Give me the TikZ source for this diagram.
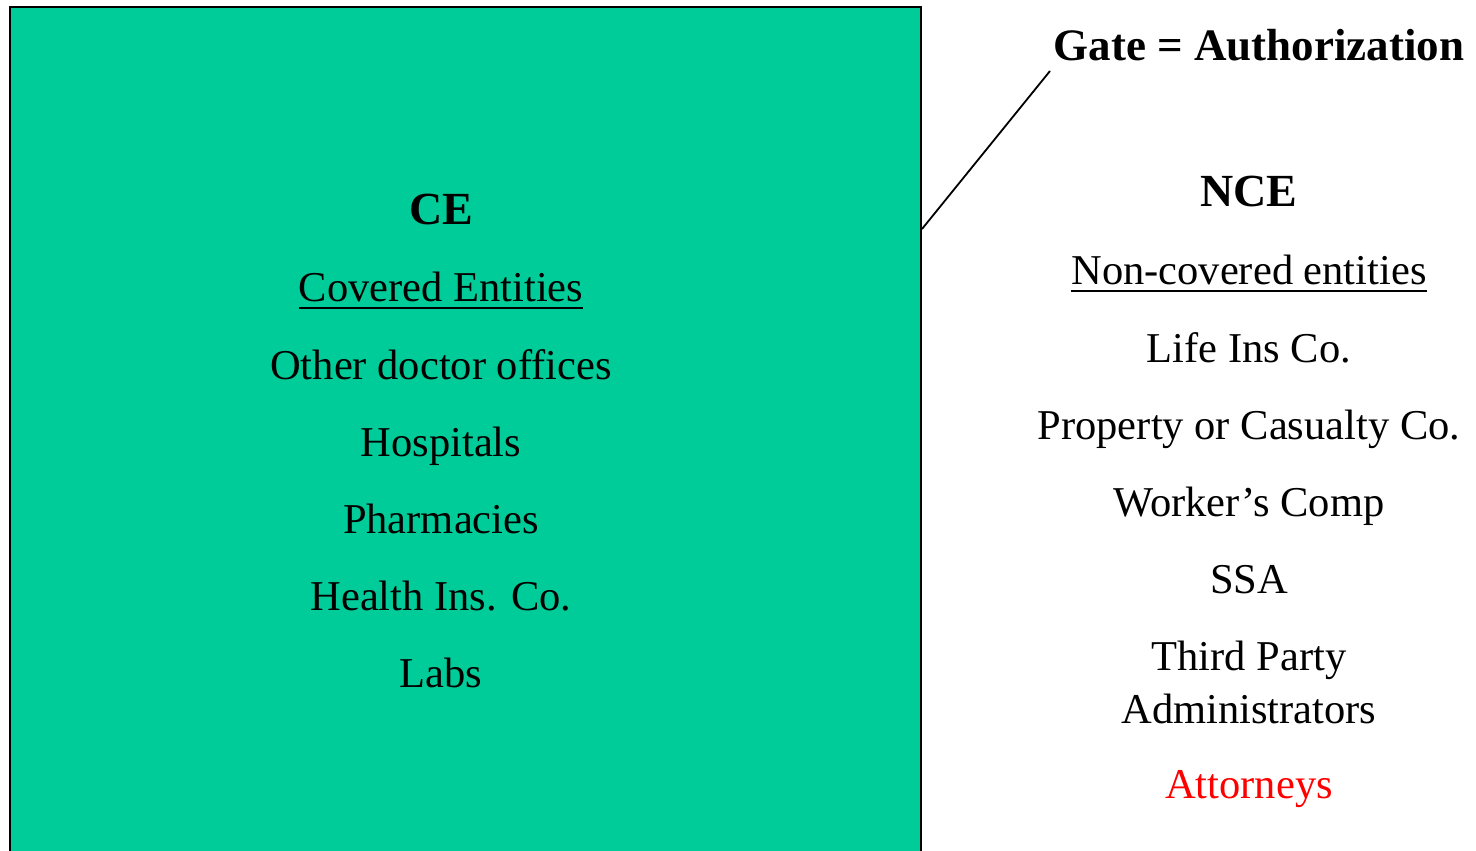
\documentclass[tikz,border=0pt]{standalone}
\usepackage{fontspec}
\setmainfont{Liberation Serif}
\definecolor{cegreen}{HTML}{00CC99}
\definecolor{attred}{HTML}{FF0000}
\begin{document}
\begin{tikzpicture}[x=1pt,y=-1pt,
  txt/.style={inner sep=0pt,anchor=base,font=\fontsize{42.5}{53}\selectfont},
  hdr/.style={inner sep=0pt,anchor=base,font=\fontsize{46}{53}\selectfont\bfseries},
  gatetxt/.style={inner sep=0pt,anchor=base,font=\fontsize{45}{53}\selectfont\bfseries},
  uline/.style={line width=2pt}]
\useasboundingbox (0,0) rectangle (1476,851);
\clip (0,0) rectangle (1476,851);
% covered entities box
\draw[fill=cegreen,line width=2pt] (10,7) rectangle (921,880);
\coordinate (boxtip) at (922,229);
\coordinate (gateend) at (1050,71);
\draw[line width=1.8pt] (boxtip) -- (gateend);
% left column
\node[hdr] (ce) at (441,224) {CE};
\node[txt] (cov) at (441,301) {Covered Entities};
\draw[uline] ([yshift=-7pt]cov.base west) -- ([yshift=-7pt]cov.base east);
\node[txt] (odo) at (441,379) {Other doctor offices};
\node[txt] (hos) at (441,456) {Hospitals};
\node[txt] (pha) at (441,533) {Pharmacies};
\node[txt] (hic) at (441,610) {Health Ins. Co.};
\node[txt] (lab) at (441,687) {Labs};
% right column
\node[gatetxt] (gate) at (1259,61) {Gate = Authorization};
\node[hdr] (nce) at (1249,206) {NCE};
\node[txt] (ncov) at (1249,284) {Non-covered entities};
\draw[uline] ([yshift=-7pt]ncov.base west) -- ([yshift=-7pt]ncov.base east);
\node[txt] (life) at (1249,362) {Life Ins Co.};
\node[txt] (prop) at (1249,439) {Property or Casualty Co.};
\node[txt] (work) at (1249,516) {Worker’s Comp};
\node[txt] (ssa) at (1249,593) {SSA};
\node[txt] (tpa1) at (1249,670) {Third Party};
\node[txt] (tpa2) at (1249,723) {Administrators};
\node[txt,text=attred] (att) at (1249,798) {Attorneys};
\end{tikzpicture}
\end{document}
